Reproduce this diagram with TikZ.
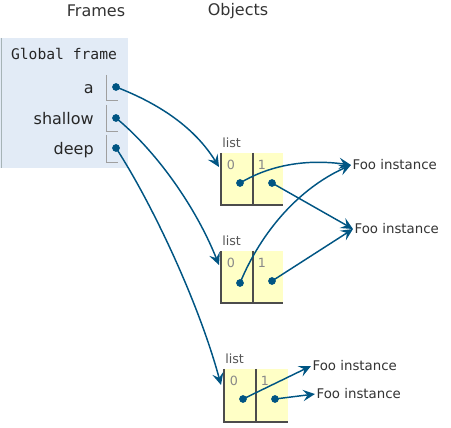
\documentclass[tikz,border=0pt]{standalone}
\usepackage{fontspec}
\setmainfont{DejaVu Sans}
\newfontfamily\monofont{DejaVu Sans Mono}
\usetikzlibrary{arrows.meta}
\definecolor{ptblue}{HTML}{005583}
\definecolor{framebg}{HTML}{E2EBF6}
\definecolor{framebd}{HTML}{A6B3B6}
\definecolor{listbg}{HTML}{FFFFC6}
\definecolor{txt}{HTML}{333333}
\definecolor{lbl}{HTML}{555555}
\definecolor{idxc}{HTML}{888888}
\begin{document}
\begin{tikzpicture}[x=0.75pt,y=-0.75pt,
  dot/.style={circle,fill=ptblue,inner sep=0pt,minimum size=5.8pt},
  ref/.style={draw=ptblue,line width=1.1pt,-{Stealth[length=9pt,width=8.5pt,inset=3.5pt]}},
  header/.style={font=\fontsize{12}{14}\selectfont,text=txt,inner sep=0pt},
  varname/.style={font=\fontsize{12}{14}\selectfont,text=black!85,anchor=east,inner sep=0pt},
  typelbl/.style={font=\fontsize{9.5}{11}\selectfont,text=lbl,anchor=west,inner sep=0pt},
  idx/.style={font=\fontsize{9.5}{11}\selectfont,text=idxc,inner sep=0pt},
  foo/.style={font=\fontsize{10}{12}\selectfont,text=txt,anchor=west,inner sep=1pt},
  cellline/.style={draw=gray!75,line width=0.75pt},
  listline/.style={draw=black!70,line width=0.9pt}]
\useasboundingbox (0,0) rectangle (451,428);

% headers
\node[header] (hframes) at (96,11) {Frames};
\node[header] (hobjects) at (238,11) {Objects};

% global frame
\fill[framebg] (0,38) rectangle (128,168);
\draw[draw=framebd,line width=0.75pt] (1,38) -- (1,168);
\node[font=\monofont\fontsize{11}{13}\selectfont,text=black!85,inner sep=0pt] (gf) at (64,54) {Global frame};

\node[varname] (va) at (94,89) {a};
\node[varname] (vs) at (94,119) {shallow};
\node[varname] (vd) at (94,150) {deep};

\draw[cellline] (106,75) -- (106,101) -- (118,101);
\draw[cellline] (106,105) -- (106,132) -- (118,132);
\draw[cellline] (106,135) -- (106,163) -- (118,163);

\node[dot] (pa) at (116,87) {};
\node[dot] (ps) at (116,118) {};
\node[dot] (pd) at (116,148) {};

% list 1
\fill[listbg] (221,153) rectangle (283,205);
\draw[listline] (221,153) -- (221,205) -- (283,205);
\draw[listline] (253,153) -- (253,205);
\node[typelbl] (l1) at (222,143) {list};
\node[idx] (l1i0) at (231,165) {0};
\node[idx] (l1i1) at (262,165) {1};
\coordinate (l1in) at (219,167);
\node[dot] (l1d0) at (240,183) {};
\node[dot] (l1d1) at (272,183) {};

% list 2
\fill[listbg] (221,251) rectangle (283,303);
\draw[listline] (221,251) -- (221,303) -- (283,303);
\draw[listline] (253,251) -- (253,303);
\node[typelbl] (l2) at (222,241) {list};
\node[idx] (l2i0) at (231,263) {0};
\node[idx] (l2i1) at (262,263) {1};
\coordinate (l2in) at (219,265);
\node[dot] (l2d0) at (240,283) {};
\node[dot] (l2d1) at (272,281) {};

% list 3
\fill[listbg] (224,369) rectangle (288,422);
\draw[listline] (224,369) -- (224,422) -- (288,422);
\draw[listline] (256,369) -- (256,422);
\node[typelbl] (l3) at (225,359) {list};
\node[idx] (l3i0) at (234,381) {0};
\node[idx] (l3i1) at (265,381) {1};
\coordinate (l3in) at (221,385);
\node[dot] (l3d0) at (243,399) {};
\node[dot] (l3d1) at (275,399) {};

% Foo instances
\node[foo] (f1) at (351,165) {Foo instance};
\node[foo] (f2) at (353,229) {Foo instance};
\node[foo] (f3) at (311,366) {Foo instance};
\node[foo] (f4) at (315,394) {Foo instance};

% references
\draw[ref] (pa.center) .. controls (160,104) and (195,128) .. (l1in);
\draw[ref] (ps.center) .. controls (155,150) and (195,205) .. (l2in);
\draw[ref] (pd.center) .. controls (150,200) and (198,300) .. (l3in);

\draw[ref] (l1d0.center) .. controls (265,168) and (300,158) .. (f1.west);
\draw[ref] (l1d1.center) -- (f2.west);
\draw[ref] (l2d0.center) .. controls (262,230) and (300,188) .. (f1.west);
\draw[ref] (l2d1.center) -- (f2.west);
\draw[ref] (l3d0.center) -- (f3.west);
\draw[ref] (l3d1.center) -- (f4.west);
\end{tikzpicture}
\end{document}
